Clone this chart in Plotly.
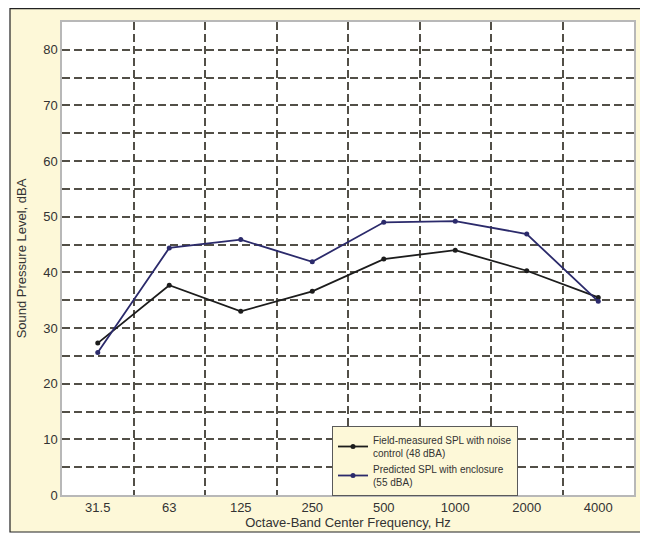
import plotly.graph_objects as go

freqs = ["31.5", "63", "125", "250", "500", "1000", "2000", "4000"]
field_measured = [27.3, 37.7, 33.0, 36.6, 42.4, 44.0, 40.3, 35.5]
predicted = [25.6, 44.4, 45.9, 41.9, 49.0, 49.2, 46.9, 34.8]
y_ticks = [0, 5, 10, 15, 20, 25, 30, 35, 40, 45, 50, 55, 60, 65, 70, 75, 80]
y_labels = [str(v) if v % 10 == 0 else "" for v in y_ticks]

cream = "#fdf8d8"
grid = "#524f47"
font = "Liberation Sans, Arial, sans-serif"

fig = go.Figure()
fig.add_trace(go.Scatter(
    x=freqs, y=field_measured, mode="lines+markers",
    name="Field-measured SPL with noise<br>control (48 dBA)",
    line=dict(color="#1c1c1c", width=1.8),
    marker=dict(color="#1c1c1c", size=5),
))
fig.add_trace(go.Scatter(
    x=freqs, y=predicted, mode="lines+markers",
    name="Predicted SPL with enclosure<br>(55 dBA)",
    line=dict(color="#2b2a6b", width=1.8),
    marker=dict(color="#2b2a6b", size=5),
))

# page has an 8px body margin, so figure coords = screen coords - 8
OFF = 8
W, H = 640, 532
L, R, T, B = 62 - OFF, W - (634 - OFF), 22 - OFF, H - (495 - OFF)
pw, ph = W - L - R, H - T - B

def px(xs):
    return (xs - OFF - L) / pw

def py(ys):
    return (H - B - (ys - OFF)) / ph

shapes = [
    dict(type="rect", xref="paper", yref="paper", x0=px(0), x1=px(10), y0=py(0), y1=py(H + OFF),
         fillcolor="white", line=dict(width=0), layer="above"),
    dict(type="rect", xref="paper", yref="paper", x0=px(641), x1=px(W + OFF), y0=py(0), y1=py(H + OFF),
         fillcolor="white", line=dict(width=0), layer="above"),
    dict(type="rect", xref="paper", yref="paper", x0=px(0), x1=px(W + OFF), y0=py(532), y1=py(H + OFF),
         fillcolor="white", line=dict(width=0), layer="above"),
    dict(type="rect", xref="paper", yref="paper", x0=px(10), x1=px(641), y0=py(8.7), y1=py(532),
         fillcolor="rgba(0,0,0,0)", line=dict(color="#222222", width=1.2), layer="above"),
]

fig.update_layout(
    width=W, height=H,
    margin=dict(l=L, r=R, t=T, b=B, autoexpand=False),
    paper_bgcolor=cream,
    plot_bgcolor="white",
    font=dict(family=font, size=13, color="#333333"),
    showlegend=True,
    legend=dict(
        x=px(332), y=py(461), xanchor="left", yanchor="middle",
        bgcolor=cream, bordercolor="#5a5a5a", borderwidth=1,
        font=dict(family=font, size=10, color="#333333"),
        tracegroupgap=0, itemwidth=30,
    ),
    shapes=shapes,
)

fig.update_xaxes(
    type="category", range=[-0.5, 7.5],
    tickson="boundaries", automargin=False,
    showgrid=True, gridcolor=grid, griddash="8px,4px", gridwidth=2,
    ticks="inside", ticklen=4, tickcolor=grid,
    showline=True, linecolor="#b8b8b8", linewidth=1.5, mirror=True,
    title=dict(text="Octave-Band Center Frequency, Hz", standoff=3,
               font=dict(family=font, size=13, color="#333333")),
    tickfont=dict(family=font, size=13, color="#333333"),
    zeroline=False,
)
fig.update_yaxes(
    range=[0, 85], automargin=False,
    tickvals=y_ticks, ticktext=y_labels,
    showgrid=True, gridcolor=grid, griddash="8px,4px", gridwidth=2,
    ticks="inside", ticklen=4, tickcolor=grid,
    showline=True, linecolor="#b8b8b8", linewidth=1.5, mirror=True,
    title=dict(text="Sound Pressure Level, dBA", standoff=14,
               font=dict(family=font, size=13, color="#333333")),
    tickfont=dict(family=font, size=13, color="#333333"),
    zeroline=False,
)

fig.write_html("out.html")
